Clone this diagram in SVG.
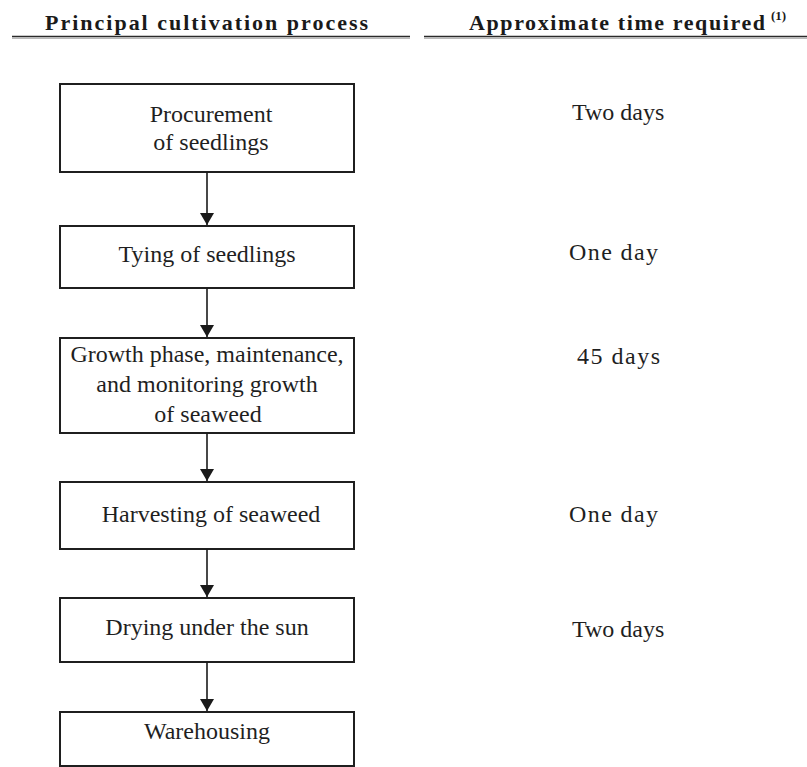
<svg xmlns="http://www.w3.org/2000/svg" width="807" height="767" viewBox="0 0 807 767">
  <defs>
    <marker id="arrow" viewBox="0 0 12 14" refX="12" refY="7" markerWidth="12" markerHeight="14" markerUnits="userSpaceOnUse" orient="auto">
      <path d="M0,0 L12,7 L0,14 Z" fill="#1a1a1a"/>
    </marker>
    <style>
      .hdr { font-family: "Liberation Serif", "Times New Roman", serif; font-weight: bold; font-size: 22px; fill: #1a1a1a; }
      .sup { font-family: "Liberation Serif", "Times New Roman", serif; font-weight: bold; font-size: 13px; fill: #1a1a1a; }
      .rule { stroke: #2a2a2a; stroke-width: 1.4; }
      .rule-shade { stroke: #9a9a9a; stroke-width: 1; }
      .box rect { fill: #ffffff; stroke: #1f1f1f; stroke-width: 2; }
      .box text { font-family: "Liberation Serif", "Times New Roman", serif; font-size: 24px; fill: #1f1f1f; text-anchor: middle; }
      .time { font-family: "Liberation Serif", "Times New Roman", serif; font-size: 24px; fill: #1f1f1f; }
      .conn line { stroke: #1a1a1a; stroke-width: 1.6; marker-end: url(#arrow); }
    </style>
  </defs>

  <!-- column headings with their rules -->
  <g id="headings">
    <text class="hdr" x="45" y="30" textLength="323" lengthAdjust="spacing">Principal cultivation process</text>
    <line class="rule" x1="12" y1="36.5" x2="410" y2="36.5"/>
    <line class="rule-shade" x1="12" y1="38.2" x2="410" y2="38.2"/>
    <text class="hdr" x="469" y="30" textLength="296" lengthAdjust="spacing">Approximate time required</text>
    <text class="sup" x="771" y="20">(1)</text>
    <line class="rule" x1="424" y1="36.5" x2="807" y2="36.5"/>
    <line class="rule-shade" x1="424" y1="38.2" x2="807" y2="38.2"/>
  </g>

  <!-- process steps -->
  <g id="procurement" class="box">
    <rect x="60" y="84" width="294" height="88"/>
    <text x="211" y="122">Procurement</text>
    <text x="211" y="150">of seedlings</text>
  </g>
  <g id="tying" class="box">
    <rect x="60" y="226" width="294" height="62"/>
    <text x="207" y="262">Tying of seedlings</text>
  </g>
  <g id="growth" class="box">
    <rect x="60" y="338" width="294" height="95"/>
    <text x="207" y="362">Growth phase, maintenance,</text>
    <text x="207" y="392">and monitoring growth</text>
    <text x="208" y="422">of seaweed</text>
  </g>
  <g id="harvesting" class="box">
    <rect x="60" y="482" width="294" height="67"/>
    <text x="211" y="522">Harvesting of seaweed</text>
  </g>
  <g id="drying" class="box">
    <rect x="60" y="598" width="294" height="64"/>
    <text x="207" y="635">Drying under the sun</text>
  </g>
  <g id="warehousing" class="box">
    <rect x="60" y="712" width="294" height="54"/>
    <text x="207" y="739">Warehousing</text>
  </g>

  <!-- time required for each step -->
  <g id="times">
    <text class="time" x="572" y="120">Two days</text>
    <text class="time" x="569" y="260" textLength="89" lengthAdjust="spacing">One day</text>
    <text class="time" x="577" y="364" textLength="83" lengthAdjust="spacing">45 days</text>
    <text class="time" x="569" y="522" textLength="89" lengthAdjust="spacing">One day</text>
    <text class="time" x="572" y="637">Two days</text>
  </g>

  <!-- connectors -->
  <g id="connectors" class="conn">
    <line x1="207" y1="172" x2="207" y2="225"/>
    <line x1="207" y1="288" x2="207" y2="337"/>
    <line x1="207" y1="433" x2="207" y2="481"/>
    <line x1="207" y1="549" x2="207" y2="597"/>
    <line x1="207" y1="662" x2="207" y2="711"/>
  </g>
</svg>
